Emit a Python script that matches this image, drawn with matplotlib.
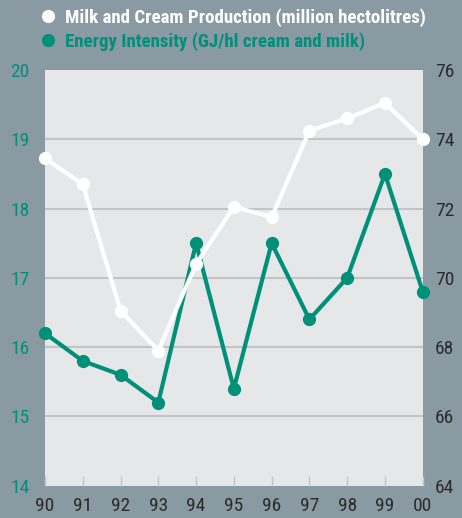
import matplotlib
matplotlib.use("Agg")
import matplotlib.pyplot as plt
from matplotlib.lines import Line2D

# data
years = [1990, 1991, 1992, 1993, 1994, 1995, 1996, 1997, 1998, 1999, 2000]
year_labels = ["90", "91", "92", "93", "94", "95", "96", "97", "98", "99", "00"]
production = [73.45, 72.7, 69.05, 67.9, 70.4, 72.05, 71.75, 74.25, 74.6, 75.05, 74.0]
intensity = [16.2, 15.8, 15.6, 15.2, 17.5, 15.4, 17.5, 16.4, 17.0, 18.5, 16.8]
left_ticks = [14, 15, 16, 17, 18, 19, 20]
right_ticks = [64, 66, 68, 70, 72, 74, 76]

BG = "#8a9aa3"
PANEL = "#e6e7e9"
GREEN = "#00907a"
GRID = "#c3c4c6"
DARK = "#2b2b2b"

plt.rcParams["font.family"] = ["Roboto Condensed", "DejaVu Sans"]
plt.rcParams["font.stretch"] = "condensed"

fig = plt.figure(figsize=(4.62, 5.18), dpi=100, facecolor=BG)
ax = fig.add_axes([0.0974, 0.0624, 0.8176, 0.8025])
ax.set_facecolor(PANEL)
ax2 = ax.twinx()

for a in (ax, ax2):
    for s in a.spines.values():
        s.set_visible(False)

ax.set_xlim(years[0], years[-1])
ax.set_ylim(14, 20)
ax2.set_ylim(64, 76)

ax.set_yticks(left_ticks)
ax2.set_yticks(right_ticks)
ax.set_xticks(years)
ax.set_xticklabels(year_labels)

for v in left_ticks[1:-1]:
    ax.axhline(v, color=GRID, lw=1.5, zorder=1)

ax.tick_params(axis="y", length=0, pad=11, labelsize=14, labelcolor=GREEN)
ax2.tick_params(axis="y", length=0, pad=9, labelsize=14, labelcolor=DARK)
ax.tick_params(axis="x", direction="in", length=7, width=1, color=GRID,
               pad=8, labelsize=14, labelcolor=DARK)

ax.plot(years, intensity, color=GREEN, lw=3, marker="o", ms=8.5,
        clip_on=False, zorder=3)
ax2.plot(years, production, color="white", lw=3, marker="o", ms=8.5,
         clip_on=False, zorder=3)

handles = [
    Line2D([], [], ls="none", marker="o", ms=8.5, color="white"),
    Line2D([], [], ls="none", marker="o", ms=8.5, color=GREEN),
]
labels = ["Milk and Cream Production (million hectolitres)",
          "Energy Intensity (GJ/hl cream and milk)"]
leg = fig.legend(handles, labels, loc="upper left",
                 bbox_to_anchor=(0.054, 1.017), frameon=False,
                 handlelength=0.6, handletextpad=0.6, labelspacing=0.25,
                 prop={"size": 13.6, "weight": "bold", "stretch": "condensed"})
leg.get_texts()[0].set_color("white")
leg.get_texts()[1].set_color(GREEN)

fig.savefig("out.png", dpi=100, facecolor=BG)
